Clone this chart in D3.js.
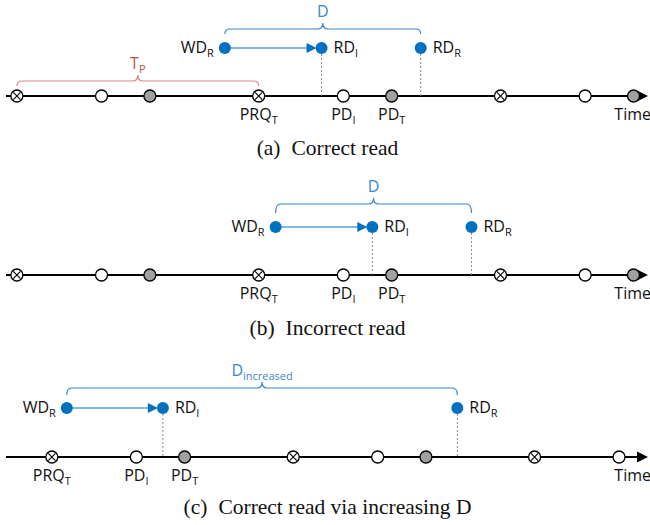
<!DOCTYPE html>
<html lang="en">
<head>
  <meta charset="UTF-8" />
  <title>Read timing diagram</title>
  <script src="https://d3js.org/d3.v7.min.js"></script>
  <style>
    body { margin: 0; background: #fff; }
    .lbl { font-family: "Open Sans", sans-serif; font-size: 16px; fill: #111; }
    .cap { font-family: "Liberation Serif", "Times New Roman", serif; font-size: 21.5px; fill: #111; }
  </style>
</head>
<body>
<svg width="650" height="525"></svg>
<script>
  // periodic events on the time line (time units, one period = 10)
  const crossedTimes = [-10, 0, 10, 20];
  const openTimes = [-6.5, 3.5, 13.5, 23.5];
  const grayTimes = [-4.5, 5.5, 15.5, 25.5];

  // per panel: visible time window and the read/write events
  const panelDomains = [[-0.45, 26.1], [-0.45, 26.1], [-1.9, 24.7]];
  const writeTimes = [8.6, 10.7, 0.62];
  const readInitTimes = [12.6, 14.7, 4.6];
  const readReplicaTimes = [16.7, 18.8, 16.8];
  const prqTimes = [10, 10, 0];          // PRQ_T marker being labelled
  const braceLabels = [["D", ""], ["D", ""], ["D", "increased"]];
  const periodBrace = [0, 10];           // T_P, panel (a) only
  const captions = [["(a)", "Correct read"], ["(b)", "Incorrect read"], ["(c)", "Correct read via increasing D"]];

  // layout
  const axisY = [96, 275, 457];
  const dotY = [48, 227, 408];
  const braceY = [29, 204, 388];
  const braceDrop = [5, 9, 7];
  const captionY = [155, 335, 514];

  const blue = "#0070C0", braceBlue = "#3a86cc";
  const red = "#c0504d", braceRed = "#d98484";

  const svg = d3.select("svg");

  function subText(g, x, y, main, sub, anchor, color) {
    const t = g.append("text").attr("class", "lbl")
      .attr("x", x).attr("y", y).attr("text-anchor", anchor)
      .style("fill", color || "#111");
    t.append("tspan").text(main);
    if (sub) t.append("tspan").attr("dy", 4).style("font-size", "11px").text(sub);
    return t;
  }

  function bracePath(x0, x1, y, drop, r) {
    const xm = (x0 + x1) / 2, tip = 6;
    return `M${x0},${y + drop} Q${x0},${y} ${x0 + r},${y} L${xm - r},${y}` +
      ` Q${xm},${y} ${xm},${y - tip} Q${xm},${y} ${xm + r},${y} L${x1 - r},${y}` +
      ` Q${x1},${y} ${x1},${y + drop}`;
  }

  captions.forEach((cap, i) => {
    const x = d3.scaleLinear().domain(panelDomains[i]).range([6, 648]);
    const g = svg.append("g");
    const ay = axisY[i], by = dotY[i];
    const inRange = t => x(t) > 8 && x(t) < 645;

    // time axis with arrow
    g.append("line").attr("x1", x(panelDomains[i][0])).attr("x2", x(panelDomains[i][1]) - 6)
      .attr("y1", ay).attr("y2", ay).attr("stroke", "#000").attr("stroke-width", 2);
    g.append("path").attr("d", `M${x(panelDomains[i][1])},${ay} l-11,-5.5 l0,11 z`).attr("fill", "#000");

    // dotted guides from reads down to the axis
    [readInitTimes[i], readReplicaTimes[i]].forEach(t => {
      g.append("line").attr("x1", x(t)).attr("x2", x(t)).attr("y1", by + 6).attr("y2", ay)
        .attr("stroke", "#8a8a8a").attr("stroke-width", 1).attr("stroke-dasharray", "2,2");
    });

    // markers
    g.selectAll(".open").data(openTimes.filter(inRange)).join("circle")
      .attr("cx", d => x(d)).attr("cy", ay).attr("r", 6)
      .attr("fill", "#fff").attr("stroke", "#000").attr("stroke-width", 1.3);
    g.selectAll(".gray").data(grayTimes.filter(inRange)).join("circle")
      .attr("cx", d => x(d)).attr("cy", ay).attr("r", 6)
      .attr("fill", "#a0a0a0").attr("stroke", "#000").attr("stroke-width", 1.3);
    const cr = g.selectAll(".crossed").data(crossedTimes.filter(inRange)).join("g")
      .attr("transform", d => `translate(${x(d)},${ay})`);
    cr.append("circle").attr("r", 6).attr("fill", "#fff").attr("stroke", "#000").attr("stroke-width", 1.3);
    cr.append("path").attr("d", "M-3.6,-3.6L3.6,3.6M-3.6,3.6L3.6,-3.6").attr("stroke", "#000").attr("stroke-width", 1.1);

    // labels below the axis
    subText(g, x(prqTimes[i]), ay + 24, "PRQ", "T", "middle");
    subText(g, x(prqTimes[i] + 3.5), ay + 24, "PD", "I", "middle");
    subText(g, x(prqTimes[i] + 5.5), ay + 24, "PD", "T", "middle");
    g.append("text").attr("class", "lbl").attr("x", 651).attr("y", ay + 24)
      .attr("text-anchor", "end").text("Time");

    // write -> read arrow
    const xw = x(writeTimes[i]), xr = x(readInitTimes[i]), xR = x(readReplicaTimes[i]);
    g.append("line").attr("x1", xw).attr("x2", xr - 12).attr("y1", by).attr("y2", by)
      .attr("stroke", blue).attr("stroke-width", 1.2);
    g.append("path").attr("d", `M${xr - 5},${by} l-10,-5 l0,10 z`).attr("fill", blue);
    g.selectAll(".ev").data([writeTimes[i], readInitTimes[i], readReplicaTimes[i]]).join("circle")
      .attr("cx", d => x(d)).attr("cy", by).attr("r", 6).attr("fill", blue);
    subText(g, xw - 11, by + 5, "WD", "R", "end");
    subText(g, xr + 12, by + 5, "RD", "I", "start");
    subText(g, xR + 12, by + 5, "RD", "R", "start");

    // delay brace
    g.append("path").attr("d", bracePath(xw, xR, braceY[i], braceDrop[i], 5))
      .attr("fill", "none").attr("stroke", braceBlue).attr("stroke-width", 1.2);
    subText(g, (xw + xR) / 2, braceY[i] - 12, braceLabels[i][0], braceLabels[i][1], "middle", braceBlue);

    // period brace
    if (i === 0) {
      const p0 = x(periodBrace[0]), p1 = x(periodBrace[1]), py = 81;
      g.append("path").attr("d", bracePath(p0, p1, py, 5, 5))
        .attr("fill", "none").attr("stroke", braceRed).attr("stroke-width", 1.2);
      subText(g, (p0 + p1) / 2, py - 12, "T", "P", "middle", red);
    }

    // caption
    const c = svg.append("text").attr("class", "cap").attr("x", 327.5).attr("y", captionY[i])
      .attr("text-anchor", "middle");
    c.append("tspan").text(cap[0]);
    c.append("tspan").attr("dx", 11).text(cap[1]);
  });
</script>
</body>
</html>
